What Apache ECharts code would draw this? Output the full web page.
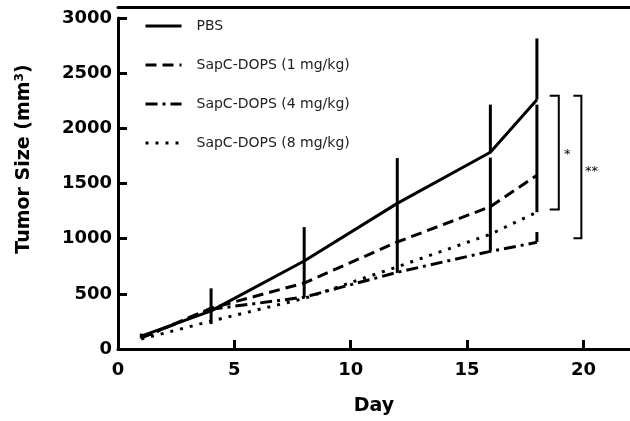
<!DOCTYPE html>
<html>
<head>
<meta charset="utf-8">
<script src="https://cdn.jsdelivr.net/npm/echarts@6/dist/echarts.min.js"></script>
<style>html,body{margin:0;padding:0;background:#fff}#c{width:630px;height:421px}</style>
</head>
<body>
<div id="c"></div>
<script>
// ---- data ----
var days = [1, 4, 8, 12, 16, 18];
var seriesNames = ['PBS', 'SapC-DOPS (1 mg/kg)', 'SapC-DOPS (4 mg/kg)', 'SapC-DOPS (8 mg/kg)'];
var pbs   = [117, 345, 798, 1320, 1783, 2260];
var mg1   = [100, 370, 598, 970, 1290, 1575];
var mg4   = [100, 360, 470, 695, 885, 967];
var mg8   = [90, 253, 458, 745, 1040, 1240];
// error bar segments: day, low, high
var errDay  = [1, 4, 8, 12, 16, 16, 18, 18, 18];
var errLow  = [95, 226, 470, 690, 1783, 885, 2260, 1240, 970];
var errHigh = [140, 550, 1105, 1730, 2215, 1735, 2815, 2215, 1060];
// significance brackets
var brLabels = ['*', '**'];
var brX0 = [18.55, 19.57];
var brX1 = [18.94, 19.91];
var brTop = [2295, 2295];
var brBottom = [1265, 1003];
var brLabelX = [19.3, 20.35];
var brLabelY = [1760, 1610];
var xTicks = [0, 5, 10, 15, 20];
var yTicks = [0, 500, 1000, 1500, 2000, 2500, 3000];

var dashTypes = ['solid', [11, 6], [12, 5, 3, 5], [3, 7]];
var allVals = [pbs, mg1, mg4, mg8];

function pairs(xs, ys) { return xs.map(function (x, i) { return [x, ys[i]]; }); }

var series = seriesNames.map(function (n, i) {
  return {
    name: n, type: 'line', data: pairs(days, allVals[i]), symbol: 'none', showSymbol: false,
    lineStyle: { color: '#000', width: 3, type: dashTypes[i] },
    itemStyle: { color: '#000' }, z: 3, animation: false
  };
});

series.push({
  type: 'custom', name: 'err', z: 4, animation: false,
  data: errDay.map(function (d, i) { return [d, errLow[i], errHigh[i]]; }),
  renderItem: function (params, api) {
    var p1 = api.coord([api.value(0), api.value(1)]);
    var p2 = api.coord([api.value(0), api.value(2)]);
    return { type: 'line', shape: { x1: p1[0], y1: p1[1], x2: p2[0], y2: p2[1] },
      style: { stroke: '#000', lineWidth: 3 } };
  }
});

series.push({
  type: 'custom', name: 'brackets', z: 4, animation: false,
  data: brX0.map(function (x, i) { return [x, brX1[i], brTop[i], brBottom[i], brLabelX[i], brLabelY[i], i]; }),
  renderItem: function (params, api) {
    var a = api.coord([api.value(0), api.value(2)]);
    var b = api.coord([api.value(1), api.value(2)]);
    var c = api.coord([api.value(1), api.value(3)]);
    var d = api.coord([api.value(0), api.value(3)]);
    var t = api.coord([api.value(4), api.value(5)]);
    return { type: 'group', children: [
      { type: 'polyline', shape: { points: [a, b, c, d] }, style: { stroke: '#000', lineWidth: 2, fill: null } },
      { type: 'text', x: t[0], y: t[1], style: { text: brLabels[api.value(6)], font: '13px "DejaVu Sans"', fill: '#000', align: 'center', verticalAlign: 'middle' } }
    ] };
  }
});

var chart = echarts.init(document.getElementById('c'), null, { renderer: 'canvas' });
chart.setOption({
  backgroundColor: '#fff',
  animation: false,
  grid: { left: 118, right: -4, top: 18, bottom: 71 },
  legend: {
    orient: 'vertical', left: 139, top: 14, itemWidth: 36, itemHeight: 14, itemGap: 25,
    data: seriesNames,
    itemStyle: { opacity: 0 },
    lineStyle: { width: 3, color: '#000' },
    textStyle: { fontFamily: 'DejaVu Sans', fontSize: 14, color: '#222', padding: [0, 0, 0, 10] }
  },
  xAxis: [{
    type: 'value', min: 0, max: 22, interval: 5,
    name: 'Day', nameLocation: 'middle', nameGap: 48,
    nameTextStyle: { fontFamily: 'DejaVu Sans', fontWeight: 'bold', fontSize: 19, color: '#000' },
    axisLine: { lineStyle: { color: '#000', width: 3 } },
    axisTick: { inside: true, length: 9, lineStyle: { color: '#000', width: 3 } },
    axisLabel: { showMaxLabel: false, margin: 12, fontFamily: 'DejaVu Sans', fontWeight: 'bold', fontSize: 18, color: '#000',
      formatter: function (v) { return xTicks.indexOf(v) >= 0 ? String(v) : ''; } },
    splitLine: { show: false }
  }, {
    type: 'value', position: 'top', offset: 11, min: 0, max: 22,
    axisLine: { show: true, lineStyle: { color: '#000', width: 3 } },
    axisTick: { show: false }, axisLabel: { show: false }, splitLine: { show: false }
  }],
  yAxis: {
    type: 'value', min: 0, max: 3000, interval: 500,
    axisLine: { show: true, lineStyle: { color: '#000', width: 3 } },
    axisTick: { show: true, inside: true, length: 9, lineStyle: { color: '#000', width: 3 } },
    axisLabel: { margin: 6, fontFamily: 'DejaVu Sans', fontWeight: 'bold', fontSize: 18, color: '#000',
      formatter: function (v) { return yTicks.indexOf(v) >= 0 ? String(v) : ''; } },
    splitLine: { show: false }
  },
  graphic: [{
    type: 'text', x: 24, y: 159, rotation: Math.PI / 2,
    style: {
      text: '{a|Tumor Size (mm}{s|3}{a|)}',
      align: 'center', verticalAlign: 'middle',
      rich: {
        a: { fontFamily: 'DejaVu Sans', fontWeight: 'bold', fontSize: 19, fill: '#000' },
        s: { fontFamily: 'DejaVu Sans', fontWeight: 'bold', fontSize: 12, fill: '#000', verticalAlign: 'top', padding: [0, 0, 8, 0] }
      }
    }
  }],
  series: series
});
</script>
</body>
</html>
